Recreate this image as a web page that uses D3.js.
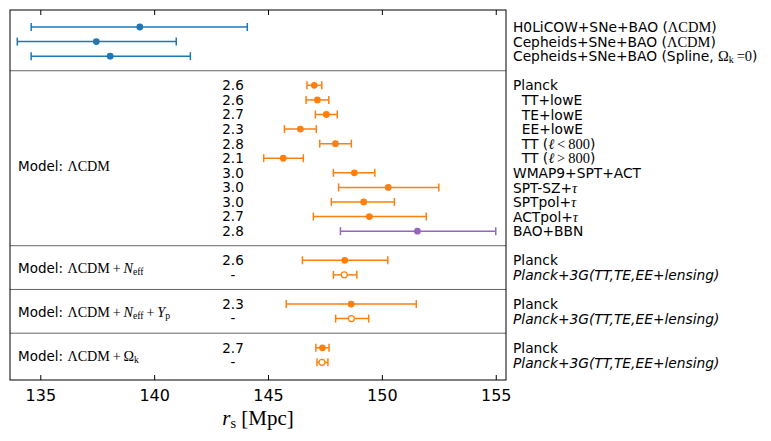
<!DOCTYPE html>
<html>
<head>
<meta charset="utf-8">
<script src="https://cdn.jsdelivr.net/npm/d3@7"></script>
<style>
  html, body { margin: 0; padding: 0; background: #fff; }
  svg { display: block; }
</style>
</head>
<body>
<svg id="chart" width="771" height="441"></svg>
<script>
// ---------------- DATA ----------------
// Label markup: text inside $...$ is math (serif); _{..} subscript; %..% italic.
const xTicks = [135, 140, 145, 150, 155];

const topLabels = [
  "H0LiCOW+SNe+BAO ($ΛCDM$)",
  "Cepheids+SNe+BAO ($ΛCDM$)",
  "Cepheids+SNe+BAO (Spline, $Ω_{k}\u2009=0$)"
];
const topValues = [139.37, 137.46, 138.07];
const topLow    = [134.60, 133.99, 134.60];
const topHigh   = [144.09, 140.97, 141.59];

const lcdmLabels = [
  "Planck",
  "  TT+lowE",
  "  TE+lowE",
  "  EE+lowE",
  "  TT ($%ℓ%\u2009<\u2009800$)",
  "  TT ($%ℓ%\u2009>\u2009800$)",
  "WMAP9+SPT+ACT",
  "SPT-SZ+$%τ%$",
  "SPTpol+$%τ%$",
  "ACTpol+$%τ%$",
  "BAO+BBN"
];
const lcdmSigma  = ["2.6", "2.6", "2.7", "2.3", "2.8", "2.1", "3.0", "3.0", "3.0", "2.7", "2.8"];
const lcdmValues = [147.03, 147.17, 147.56, 146.42, 147.96, 145.67, 148.79, 150.28, 149.20, 149.45, 151.56];
const lcdmLow    = [146.71, 146.67, 147.08, 145.72, 147.27, 144.81, 147.87, 148.10, 147.78, 146.99, 148.18];
const lcdmHigh   = [147.36, 147.67, 148.04, 147.12, 148.66, 146.55, 149.69, 152.50, 150.55, 151.95, 155.00];
const lcdmKind   = ["cmb", "cmb", "cmb", "cmb", "cmb", "cmb", "cmb", "cmb", "cmb", "cmb", "bao"];

const extModels    = ["Model: $ΛCDM\u2009+\u2009%N%_{eff}$", "Model: $ΛCDM\u2009+\u2009%N%_{eff}\u2009+\u2009%Y%_{p}$", "Model: $ΛCDM\u2009+\u2009Ω_{k}$"];
const extSigma     = ["2.6", "2.3", "2.7"];
const extValues    = [148.37, 148.65, 147.39];
const extLow       = [146.51, 145.80, 147.10];
const extHigh      = [150.26, 151.51, 147.68];
const extOpenValue = [148.35, 148.66, 147.37];
const extOpenLow   = [147.87, 147.97, 147.15];
const extOpenHigh  = [148.90, 149.42, 147.63];
const extRowLabels = ["Planck", "%Planck+3G(TT,TE,EE+lensing)%"];

const xLabel = "$%r%_{s} [Mpc]$";

// ---------------- LAYOUT ----------------
const svg = d3.select("#chart");
const L = 10, R = 506, T = 10, B = 380;
const colors = { top: "#1f77b4", cmb: "#ff7f0e", bao: "#9467bd", ext: "#ff7f0e" };
const sans = "'DejaVu Sans', sans-serif";
const serif = "'Liberation Serif', 'DejaVu Serif', serif";

const x = d3.scaleLinear().domain([133.67, 155.45]).range([L, R]);
const y = d3.scaleLinear().domain([-1.166, 24.21]).range([T, B]);

// rows
const topRows = topValues.map((d, i) => i);                // 0..2
const lcdmRows = lcdmValues.map((d, i) => 4 + i);          // 4..14
const extRows = extValues.map((d, i) => 16 + 3 * i);       // 16,19,22
const separators = [3, 15, 18, 21];

// render label with tiny markup
function richText(sel, str, fs, baseFont) {
  const parts = str.split("$");
  parts.forEach((p, pi) => {
    const math = pi % 2 === 1;
    if (!math) {
      p.split("%").forEach((q, qi) => {
        if (!q) return;
        sel.append("tspan").attr("font-family", baseFont || sans)
          .attr("font-style", qi % 2 === 1 ? "italic" : "normal")
          .attr("font-size", fs).attr("xml:space", "preserve").text(q);
      });
    } else {
      const re = /_\{([^}]*)\}|%([^%]*)%|([^_%]+)/g;
      let m;
      while ((m = re.exec(p)) !== null) {
        if (m[1] !== undefined) {
          sel.append("tspan").attr("font-family", serif).attr("font-size", fs * 0.72)
            .attr("baseline-shift", "-22%").text(m[1]);
        } else if (m[2] !== undefined) {
          sel.append("tspan").attr("font-family", serif).attr("font-style", "italic")
            .attr("font-size", fs * 1.05).text(m[2]);
        } else {
          sel.append("tspan").attr("font-family", serif).attr("font-size", fs * 1.05)
            .attr("xml:space", "preserve").text(m[3]);
        }
      }
    }
  });
  return sel;
}

// separators
svg.append("g").selectAll("line").data(separators).join("line")
  .attr("x1", L).attr("x2", R).attr("y1", d => y(d)).attr("y2", d => y(d))
  .attr("stroke", "#555").attr("stroke-width", 0.9);

// frame
svg.append("rect").attr("x", L).attr("y", T).attr("width", R - L).attr("height", B - T)
  .attr("fill", "none").attr("stroke", "#000").attr("stroke-width", 1);

// axes (ticks inward)
const axB = svg.append("g").attr("transform", `translate(0,${B})`)
  .call(d3.axisBottom(x).tickValues(xTicks).tickSizeInner(-5).tickSizeOuter(0).tickPadding(10));
axB.select(".domain").remove();
axB.selectAll("text").attr("font-family", sans).attr("font-size", 16).attr("fill", "#000");
const axT = svg.append("g").attr("transform", `translate(0,${T})`)
  .call(d3.axisTop(x).tickValues(xTicks).tickSizeInner(-5).tickSizeOuter(0).tickFormat(""));
axT.select(".domain").remove();

// error bar drawing
const cap = 4;
function errbar(g, xv, lo, hi, yr, color, open) {
  const yy = y(yr);
  g.append("line").attr("x1", x(lo)).attr("x2", x(hi)).attr("y1", yy).attr("y2", yy)
    .attr("stroke", color).attr("stroke-width", 1.5);
  [lo, hi].forEach(v => g.append("line").attr("x1", x(v)).attr("x2", x(v))
    .attr("y1", yy - cap).attr("y2", yy + cap).attr("stroke", color).attr("stroke-width", 1.5));
  g.append("circle").attr("cx", x(xv)).attr("cy", yy).attr("r", open ? 3 : 3.4)
    .attr("fill", open ? "#fff" : color).attr("stroke", color).attr("stroke-width", open ? 1.2 : 0);
}
const marks = svg.append("g");
topValues.forEach((v, i) => errbar(marks, v, topLow[i], topHigh[i], topRows[i], colors.top, false));
lcdmValues.forEach((v, i) => errbar(marks, v, lcdmLow[i], lcdmHigh[i], lcdmRows[i], colors[lcdmKind[i]], false));
extValues.forEach((v, i) => {
  errbar(marks, v, extLow[i], extHigh[i], extRows[i], colors.ext, false);
  errbar(marks, extOpenValue[i], extOpenLow[i], extOpenHigh[i], extRows[i] + 1, colors.ext, true);
});

// sigma column
const sigX = 233, fsSmall = 13.5, fsRight = 13.8;
function sigmaText(txt, row) {
  svg.append("text").attr("x", sigX).attr("y", y(row)).attr("dy", "0.36em")
    .attr("text-anchor", "middle").attr("font-family", sans).attr("font-size", fsSmall).text(txt);
}
lcdmSigma.forEach((s, i) => sigmaText(s, lcdmRows[i]));
extSigma.forEach((s, i) => { sigmaText(s, extRows[i]); sigmaText("-", extRows[i] + 1); });

// model labels
function leftLabel(str, row) {
  const t = svg.append("text").attr("x", 18).attr("y", y(row)).attr("dy", "0.36em");
  richText(t, str, fsSmall);
}
leftLabel("Model: $ΛCDM$", 9.5);
extModels.forEach((m, i) => leftLabel(m, extRows[i] + 0.5));

// right labels
const rx = 513;
function rightLabel(str, row) {
  const t = svg.append("text").attr("x", rx).attr("y", y(row) - 0.6).attr("dy", "0.36em");
  richText(t, str, fsRight);
}
topLabels.forEach((s, i) => rightLabel(s, topRows[i]));
lcdmLabels.forEach((s, i) => rightLabel(s, lcdmRows[i]));
extRows.forEach(r => extRowLabels.forEach((s, j) => rightLabel(s, r + j)));

// x label
const xl = svg.append("text").attr("x", (L + R) / 2).attr("y", 425).attr("text-anchor", "middle");
richText(xl, xLabel, 20);
</script>
</body>
</html>
